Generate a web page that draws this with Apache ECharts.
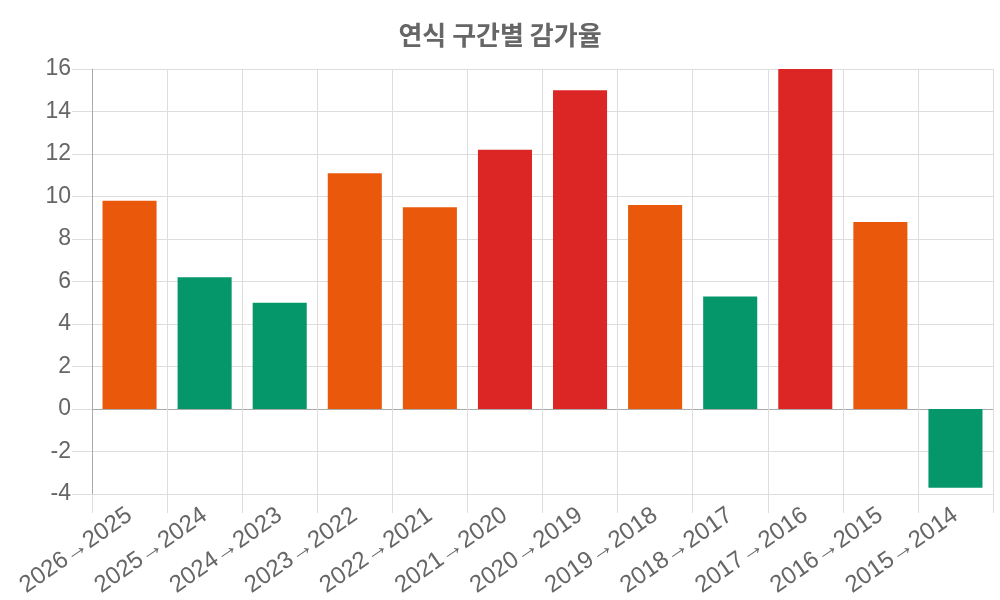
<!DOCTYPE html>
<html>
<head>
<meta charset="utf-8">
<script src="https://cdn.jsdelivr.net/npm/echarts@6/dist/echarts.min.js"></script>
<style>
html,body{margin:0;padding:0;background:#fff;}
#chart{width:1000px;height:600px;}
</style>
</head>
<body>
<div id="chart"></div>
<script>
const titleText = '연식 구간별 감가율';
const categories = ['2026→2025','2025→2024','2024→2023','2023→2022','2022→2021','2021→2020','2020→2019','2019→2018','2018→2017','2017→2016','2016→2015','2015→2014'];
const rates = [9.8, 6.2, 5.0, 11.1, 9.5, 12.2, 15.0, 9.6, 5.3, 16.0, 8.8, -3.7];
const yTicks = { min: -4, max: 16, interval: 2 };

const RED = '#DC2626', ORANGE = '#EA580C', GREEN = '#059669';
function colorFor(v) { return v >= 12 ? RED : (v >= 8 ? ORANGE : GREEN); }

const GRID = '#dddddd';
const splitColors = [];
for (let v = yTicks.min; v <= yTicks.max; v += yTicks.interval) splitColors.push(v === 0 ? '#aaaaaa' : GRID);

const chart = echarts.init(document.getElementById('chart'));
chart.setOption({
  animation: false,
  backgroundColor: '#ffffff',
  title: {
    text: titleText,
    left: 'center',
    top: 17,
    textStyle: { fontFamily: 'Noto Sans CJK KR', fontSize: 26, fontWeight: 'bold', color: '#666666' }
  },
  grid: { left: 92, right: 7, top: 69, bottom: 106, containLabel: false },
  xAxis: {
    type: 'category',
    data: categories,
    boundaryGap: true,
    axisLine: { onZero: false, lineStyle: { color: GRID, width: 1 } },
    axisTick: { show: true, length: 19, lineStyle: { color: GRID } },
    splitLine: { show: true, lineStyle: { color: GRID, width: 1 } },
    axisLabel: {
      rotate: 35, margin: 19, interval: 0,
      color: '#666666', fontSize: 24, fontFamily: 'Liberation Sans, Arial, sans-serif'
    }
  },
  yAxis: {
    type: 'value',
    min: yTicks.min, max: yTicks.max, interval: yTicks.interval,
    axisLine: { show: true, lineStyle: { color: '#aaaaaa', width: 1 } },
    axisTick: { show: true, length: 20, lineStyle: { color: GRID } },
    splitLine: { show: true, lineStyle: { color: splitColors, width: 1 } },
    axisLabel: { margin: 21, color: '#666666', fontSize: 23, fontFamily: 'Liberation Sans, Arial, sans-serif' }
  },
  series: [{
    type: 'bar',
    data: rates.map(v => ({ value: v, itemStyle: { color: colorFor(v) } })),
    barCategoryGap: '28%',
    clip: true
  }]
});
</script>
</body>
</html>
